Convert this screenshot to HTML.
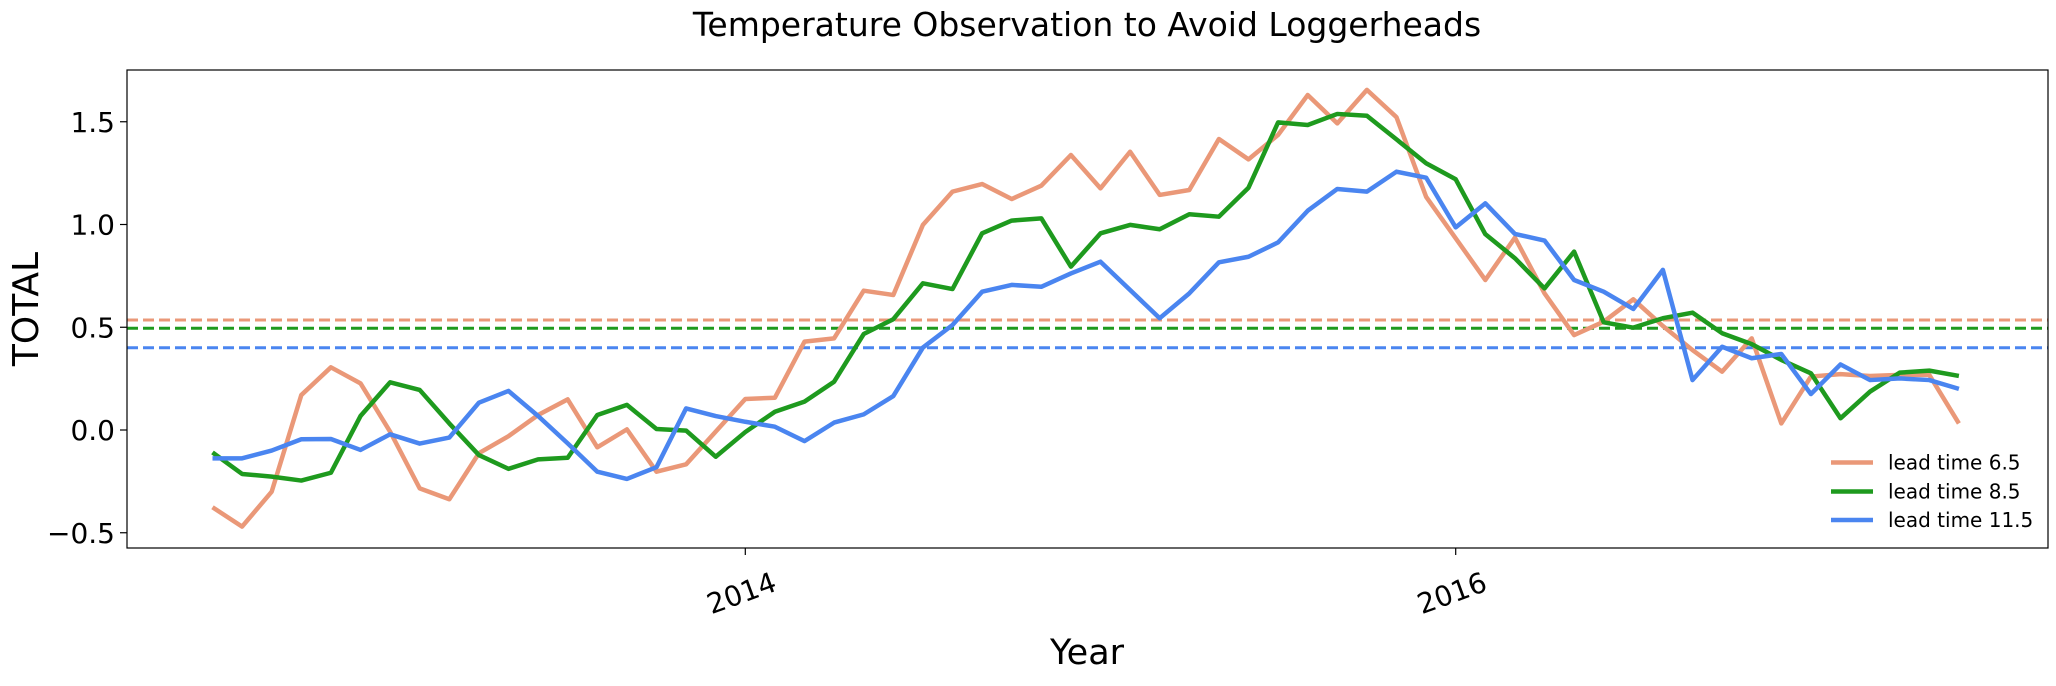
<!DOCTYPE html>
<html><head><meta charset="utf-8"><style>
body{margin:0;background:#fff;}
svg text{font-family:"DejaVu Sans","Liberation Sans",sans-serif;fill:#000;}
</style></head><body>
<svg id="chart" width="2056" height="681" xmlns="http://www.w3.org/2000/svg">
<text x="1087" y="36" font-size="33" text-anchor="middle">Temperature Observation to Avoid Loggerheads</text>
<g id="plot"></g>
<rect x="127" y="70" width="1921" height="478" fill="none" stroke="#000" stroke-width="1.2"/>
<text transform="translate(38,309) rotate(-90)" font-size="36" text-anchor="middle">TOTAL</text>
<text x="1087" y="664" font-size="35" text-anchor="middle">Year</text>
<g>
<line x1="1831" y1="462.5" x2="1873" y2="462.5" stroke="#EA9878" stroke-width="4.5"/>
<text x="1888" y="469.5" font-size="20">lead time 6.5</text>
<line x1="1831" y1="491.5" x2="1873" y2="491.5" stroke="#1E9A1E" stroke-width="4.5"/>
<text x="1888" y="498.5" font-size="20">lead time 8.5</text>
<line x1="1831" y1="520" x2="1873" y2="520" stroke="#4A85F0" stroke-width="4.5"/>
<text x="1888" y="527" font-size="20">lead time 11.5</text>
</g>
</svg>
<script>
const months = Array.from({length:60},(_,i)=>i); // month index from 2012-07
const lead65 = [-0.376,-0.47,-0.30,0.17,0.305,0.227,-0.008,-0.284,-0.337,-0.113,-0.03,0.073,0.149,-0.084,0.003,-0.203,-0.167,-0.008,0.151,0.157,0.43,0.446,0.678,0.657,0.998,1.160,1.197,1.124,1.189,1.338,1.176,1.354,1.144,1.168,1.416,1.317,1.436,1.630,1.492,1.655,1.522,1.135,0.933,0.730,0.936,0.665,0.462,0.527,0.636,0.506,0.389,0.284,0.446,0.032,0.260,0.272,0.263,0.268,0.268,0.032];
const lead85 = [-0.109,-0.214,-0.227,-0.246,-0.208,0.068,0.232,0.195,0.032,-0.122,-0.189,-0.143,-0.135,0.073,0.122,0.005,-0.003,-0.130,-0.01,0.089,0.138,0.235,0.467,0.539,0.714,0.686,0.957,1.019,1.030,0.795,0.957,0.998,0.977,1.050,1.038,1.179,1.497,1.484,1.538,1.529,1.414,1.298,1.220,0.953,0.836,0.689,0.868,0.524,0.498,0.544,0.571,0.471,0.418,0.341,0.276,0.057,0.187,0.279,0.289,0.263];
const lead115 = [-0.138,-0.138,-0.10,-0.045,-0.044,-0.097,-0.021,-0.066,-0.037,0.133,0.190,0.068,-0.065,-0.203,-0.238,-0.181,0.105,0.068,0.040,0.016,-0.054,0.036,0.076,0.165,0.401,0.511,0.673,0.706,0.697,0.762,0.819,0.681,0.544,0.665,0.816,0.843,0.913,1.067,1.173,1.160,1.257,1.228,0.986,1.103,0.954,0.922,0.730,0.673,0.589,0.779,0.243,0.405,0.349,0.370,0.175,0.319,0.243,0.251,0.243,0.200];
const thresholds = [0.535,0.495,0.40];
const yTicks = [-0.5,0.0,0.5,1.0,1.5];
const yTickLabels = ["\u22120.5","0.0","0.5","1.0","1.5"];
const xTickMonths = [18,42];
const xTickLabels = ["2014","2016"];

const NS="http://www.w3.org/2000/svg";
const g=document.getElementById('plot');
function xs(m){return 212.5+29.6*m;}
function ys(v){return 430-205.5*v;}
function mk(tag,attrs){const e=document.createElementNS(NS,tag);for(const k in attrs)e.setAttribute(k,attrs[k]);g.appendChild(e);return e;}
const colors=["#EA9878","#1E9A1E","#4A85F0"];
yTicks.forEach((v,i)=>{
  const t=mk('line',{x1:120,x2:127,y1:ys(v),y2:ys(v),stroke:'#000','stroke-width':1.2});
  
  
  const l=mk('text',{x:115,y:ys(v)+10,'font-size':28,'text-anchor':'end'});
  l.textContent=yTickLabels[i];
  
  
});
xTickMonths.forEach((m,i)=>{
  const t=mk('line',{x1:xs(m),x2:xs(m),y1:548,y2:555,stroke:'#000','stroke-width':1.2});
  
  
  const l=mk('text',{transform:`translate(${xs(m)+33},${590}) rotate(-20)`,'font-size':28,'text-anchor':'end'});
  l.textContent=xTickLabels[i];
  
  
});
thresholds.forEach((v,i)=>{
  const d=mk('line',{x1:127,x2:2048,y1:ys(v),y2:ys(v),stroke:colors[i],'stroke-width':3,'stroke-dasharray':'11,5'});
  
  
});
[lead65,lead85,lead115].forEach((s,i)=>{
  const p=mk('polyline',{points:s.map((v,k)=>xs(months[k])+','+ys(v)).join(' '),fill:'none',stroke:colors[i],'stroke-width':4.5,'stroke-linejoin':'round'});
  
  
});
</script>
</body></html>
